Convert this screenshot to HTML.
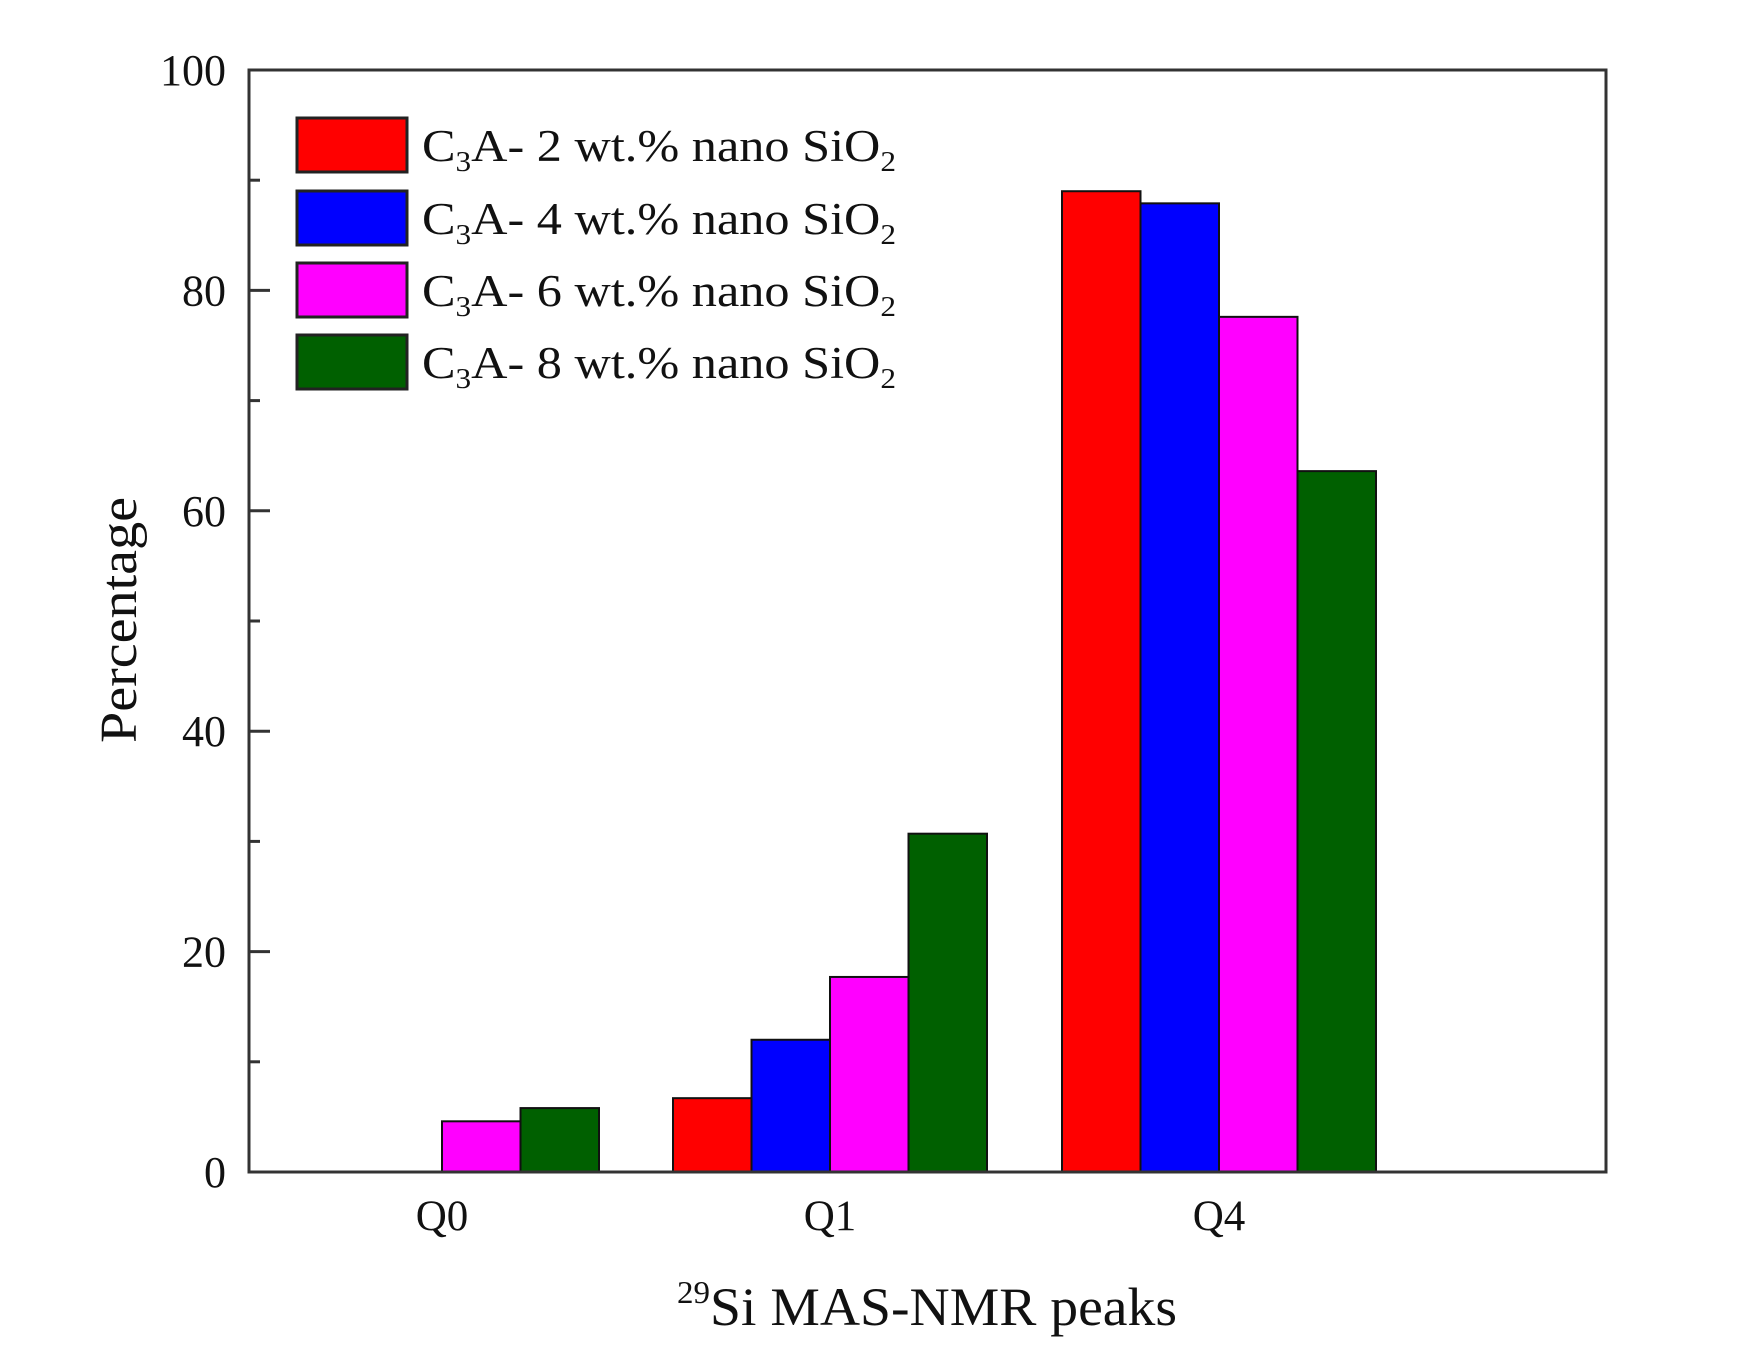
<!DOCTYPE html>
<html><head><meta charset="utf-8"><style>html,body{margin:0;padding:0;background:#fff}svg{display:block}</style></head>
<body>
<svg id="chart" width="1744" height="1364" viewBox="0 0 1744 1364" xmlns="http://www.w3.org/2000/svg" font-family="'Liberation Serif', serif"></svg>
<script>
const categories = ["Q0", "Q1", "Q4"];
const series2 = [0, 6.7, 89.0];
const series4 = [0, 12.0, 87.9];
const series6 = [4.6, 17.7, 77.6];
const series8 = [5.8, 30.7, 63.6];
const seriesNames = ["2", "4", "6", "8"];
const yTicks = [0, 20, 40, 60, 80, 100];
const yMinor = [10, 30, 50, 70, 90];

const NS = "http://www.w3.org/2000/svg";
const svg = document.getElementById('chart');
const L = 249, R = 1606, T = 70, B = 1172;
const y = v => B - (v / 100) * (B - T);
const catCenters = [442, 830, 1219];
const x = i => catCenters[i];
const barW = 78.5;
const colors = ["#ff0000", "#0000ff", "#ff00ff", "#006000"];
const allSeries = [series2, series4, series6, series8];

function mk(tag, attrs, parent) {
  const e = document.createElementNS(NS, tag);
  for (const k in attrs) e.setAttribute(k, attrs[k]);
  (parent || svg).appendChild(e);
  return e;
}

// bars
allSeries.forEach((s, si) => {
  s.forEach((v, ci) => {
    if (v <= 0) return;
    const bx = x(ci) - 2 * barW + si * barW;
    const r = mk('rect', {x: bx, y: y(v), width: barW, height: y(0) - y(v), fill: colors[si], stroke: '#111', 'stroke-width': 2});
    
    
  });
});

// frame
const fr = mk('rect', {x: L, y: T, width: R - L, height: B - T, fill: 'none', stroke: '#333', 'stroke-width': 3});



// y ticks
yTicks.forEach(v => {
  const t = mk('line', {x1: L, x2: L + 21, y1: y(v), y2: y(v), stroke: '#333', 'stroke-width': 3});
  
  
  const lb = mk('text', {x: 226, y: y(v) + 15, 'font-size': 44, 'text-anchor': 'end', fill: '#111'});
  
  
  lb.textContent = v;
});
yMinor.forEach(v => {
  const t = mk('line', {x1: L, x2: L + 11, y1: y(v), y2: y(v), stroke: '#333', 'stroke-width': 3});
  
  
});

// x labels
categories.forEach((c, i) => {
  const lb = mk('text', {x: x(i), y: 1230, 'font-size': 43, 'text-anchor': 'middle', fill: '#111'});
  
  
  lb.textContent = c;
});

// legend
const legTops = [118, 191, 263, 335];
seriesNames.forEach((n, i) => {
  const r = mk('rect', {x: 297, y: legTops[i], width: 110, height: 54, fill: colors[i], stroke: '#222', 'stroke-width': 3});
  
  
  const t = mk('text', {x: 422, y: legTops[i] + 43, 'font-size': 45, fill: '#111', textLength: 474, lengthAdjust: 'spacingAndGlyphs'});
  
  
  t.innerHTML = 'C<tspan font-size="28" dy="10">3</tspan><tspan dy="-10">A- ' + n + ' wt.% nano SiO</tspan><tspan font-size="28" dy="10">2</tspan>';
});

// axis titles
const xt = mk('text', {x: 677, y: 1325, 'font-size': 54, fill: '#111', textLength: 500, lengthAdjust: 'spacingAndGlyphs'});


xt.innerHTML = '<tspan font-size="32" dy="-22">29</tspan><tspan dy="22">Si MAS-NMR peaks</tspan>';

const yt = mk('text', {x: 0, y: 0, 'font-size': 52, fill: '#111', 'text-anchor': 'middle', transform: 'translate(136,620) rotate(-90)', textLength: 246, lengthAdjust: 'spacingAndGlyphs'});


yt.textContent = 'Percentage';
</script>
</body></html>
